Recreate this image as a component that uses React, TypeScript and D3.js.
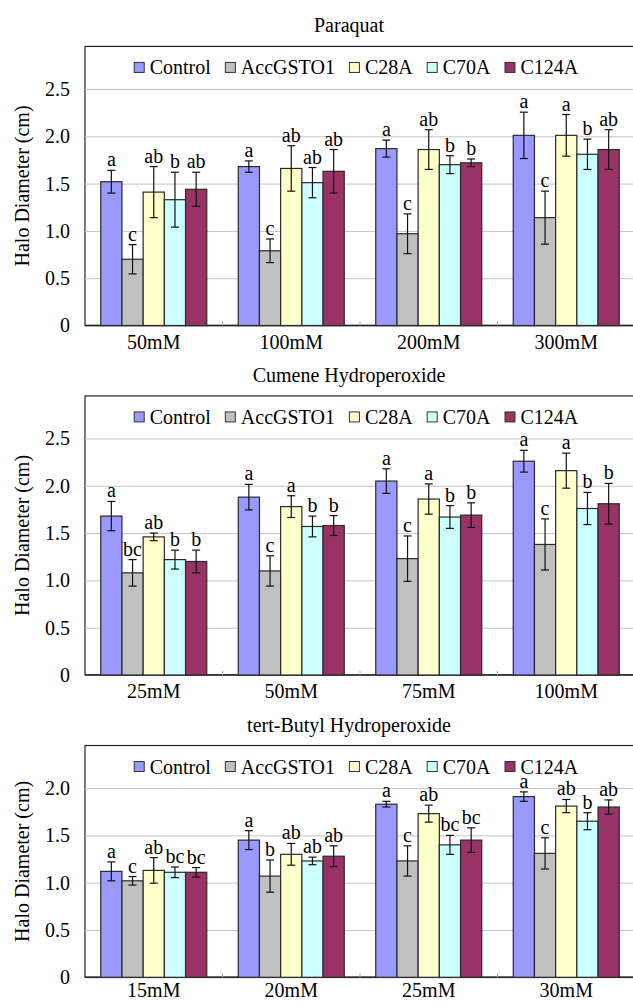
import React, { useEffect, useRef } from 'react'
import * as d3 from 'd3'

const seriesNames = ['Control', 'AccGSTO1', 'C28A', 'C70A', 'C124A']
const seriesColors = ['#9999ff', '#c0c0c0', '#ffffcc', '#ccffff', '#993366']

const tallTicks = [0, 0.5, 1, 1.5, 2, 2.5]
const shortTicks = [0, 0.5, 1, 1.5, 2]

// Paraquat: one row per dose, one value per strain
const paraquatDoses = ['50mM', '100mM', '200mM', '300mM']
const paraquatMean = [
  [1.52, 0.70, 1.41, 1.33, 1.44],
  [1.68, 0.79, 1.66, 1.51, 1.63],
  [1.87, 0.97, 1.86, 1.70, 1.72],
  [2.01, 1.14, 2.01, 1.81, 1.86],
]
const paraquatErr = [
  [0.12, 0.155, 0.27, 0.29, 0.18],
  [0.06, 0.125, 0.24, 0.16, 0.23],
  [0.09, 0.21, 0.21, 0.095, 0.04],
  [0.245, 0.28, 0.22, 0.16, 0.21],
]
const paraquatLetters = [
  ['a', 'c', 'ab', 'b', 'ab'],
  ['a', 'c', 'ab', 'ab', 'ab'],
  ['a', 'c', 'ab', 'b', 'b'],
  ['a', 'c', 'a', 'b', 'ab'],
]

// Cumene hydroperoxide
const cumeneDoses = ['25mM', '50mM', '75mM', '100mM']
const cumeneMean = [
  [1.68, 1.08, 1.46, 1.22, 1.20],
  [1.88, 1.10, 1.78, 1.57, 1.58],
  [2.05, 1.23, 1.86, 1.67, 1.69],
  [2.26, 1.38, 2.16, 1.76, 1.81],
]
const cumeneErr = [
  [0.155, 0.14, 0.04, 0.10, 0.12],
  [0.135, 0.16, 0.115, 0.11, 0.105],
  [0.13, 0.24, 0.16, 0.12, 0.13],
  [0.115, 0.27, 0.185, 0.17, 0.215],
]
const cumeneLetters = [
  ['a', 'bc', 'ab', 'b', 'b'],
  ['a', 'c', 'a', 'b', 'b'],
  ['a', 'c', 'a', 'b', 'b'],
  ['a', 'c', 'a', 'b', 'b'],
]

// tert-butyl hydroperoxide
const tbhDoses = ['15mM', '20mM', '25mM', '30mM']
const tbhMean = [
  [1.12, 1.02, 1.13, 1.11, 1.11],
  [1.45, 1.07, 1.30, 1.23, 1.28],
  [1.83, 1.23, 1.73, 1.40, 1.45],
  [1.91, 1.31, 1.81, 1.65, 1.80],
]
const tbhErr = [
  [0.10, 0.045, 0.135, 0.056, 0.05],
  [0.10, 0.17, 0.115, 0.04, 0.11],
  [0.03, 0.16, 0.09, 0.10, 0.13],
  [0.05, 0.165, 0.07, 0.09, 0.075],
]
const tbhLetters = [
  ['a', 'c', 'ab', 'bc', 'bc'],
  ['a', 'b', 'ab', 'ab', 'ab'],
  ['a', 'c', 'ab', 'bc', 'bc'],
  ['a', 'c', 'ab', 'b', 'ab'],
]

const panels = [
  { title: 'Paraquat', doses: paraquatDoses, means: paraquatMean, errs: paraquatErr, letters: paraquatLetters, ticks: tallTicks, yMax: 2.95, baseY: 325.5, catDy: 23 },
  { title: 'Cumene Hydroperoxide', doses: cumeneDoses, means: cumeneMean, errs: cumeneErr, letters: cumeneLetters, ticks: tallTicks, yMax: 2.95, baseY: 675, catDy: 23 },
  { title: 'tert-Butyl Hydroperoxide', doses: tbhDoses, means: tbhMean, errs: tbhErr, letters: tbhLetters, ticks: shortTicks, yMax: 2.45, baseY: 977.3, catDy: 20 },
]

const W = 633
const H = 1003
const PX_PER_UNIT = 94.6
const plotLeft = 85
const plotRight = 635
const FONT = '"Liberation Serif", "Times New Roman", serif'

export default function App() {
  const ref = useRef<SVGSVGElement>(null)

  useEffect(() => {
    const svg = d3.select(ref.current)
    svg.selectAll('*').remove()

    panels.forEach(p => {
      const y = d3.scaleLinear()
        .domain([0, p.yMax])
        .range([p.baseY, p.baseY - p.yMax * PX_PER_UNIT])
      const x0 = d3.scaleBand().domain(p.doses).range([plotLeft, plotRight])
      const groupW = x0.bandwidth() * 0.771
      const x1 = d3.scaleBand().domain(seriesNames).range([0, groupW])
      const offset = (x0.bandwidth() - groupW) / 2
      const frameTop = y(p.yMax)

      const g = svg.append('g')

      // frame
      g.append('rect')
        .attr('x', plotLeft).attr('y', frameTop)
        .attr('width', plotRight - plotLeft).attr('height', y(0) - frameTop)
        .attr('fill', '#fff').attr('stroke', '#222').attr('stroke-width', 1.2)

      // grid + tick labels
      const ax = g.append('g')
        .attr('transform', `translate(${plotLeft},0)`)
        .call(d3.axisLeft(y).tickValues(p.ticks).tickSize(-(plotRight - plotLeft)).tickPadding(15)
          .tickFormat(d => (+d === 0 ? '0' : d3.format('.1f')(+d))))
      ax.select('.domain').remove()
      ax.selectAll('line').attr('stroke', '#c4c4c4').attr('stroke-width', 1)
      ax.selectAll('text').attr('font-family', FONT).attr('font-size', 20).attr('fill', '#000')

      // x axis line and small inner ticks
      g.append('line')
        .attr('x1', plotLeft).attr('x2', plotRight)
        .attr('y1', y(0)).attr('y2', y(0))
        .attr('stroke', '#222').attr('stroke-width', 1.5)
      g.selectAll('line.xt')
        .data(p.doses.slice(1))
        .join('line')
        .attr('class', 'xt')
        .attr('x1', d => x0(d) as number).attr('x2', d => x0(d) as number)
        .attr('y1', y(0)).attr('y2', y(0) - 4)
        .attr('stroke', '#aaa')

      // bars
      const cells = p.doses.flatMap((dose, i) => seriesNames.map((s, j) => ({
        dose, s, j, v: p.means[i][j], e: p.errs[i][j], l: p.letters[i][j],
      })))
      const cx = (d: any) => (x0(d.dose) as number) + offset + (x1(d.s) as number)
      const bw = x1.bandwidth()

      g.selectAll('rect.bar')
        .data(cells)
        .join('rect')
        .attr('class', 'bar')
        .attr('x', cx)
        .attr('y', d => y(d.v))
        .attr('width', bw)
        .attr('height', d => y(0) - y(d.v))
        .attr('fill', d => seriesColors[d.j])
        .attr('stroke', '#2a2a2a')
        .attr('stroke-width', 1.2)

      // error bars
      const eb = g.selectAll('g.eb').data(cells).join('g').attr('class', 'eb')
      eb.append('line')
        .attr('x1', d => cx(d) + bw / 2).attr('x2', d => cx(d) + bw / 2)
        .attr('y1', d => y(d.v + d.e)).attr('y2', d => y(d.v - d.e))
        .attr('stroke', '#111').attr('stroke-width', 1.2)
      ;[1, -1].forEach(sign => {
        eb.append('line')
          .attr('x1', d => cx(d) + bw / 2 - 4).attr('x2', d => cx(d) + bw / 2 + 4)
          .attr('y1', d => y(d.v + sign * d.e)).attr('y2', d => y(d.v + sign * d.e))
          .attr('stroke', '#111').attr('stroke-width', 1.2)
      })

      // significance letters
      g.selectAll('text.lt')
        .data(cells)
        .join('text')
        .attr('class', 'lt')
        .attr('x', d => cx(d) + bw / 2)
        .attr('y', d => y(d.v + d.e) - 4)
        .attr('text-anchor', 'middle')
        .attr('font-family', FONT).attr('font-size', 20)
        .text(d => d.l)

      // category labels
      g.selectAll('text.cat')
        .data(p.doses)
        .join('text')
        .attr('class', 'cat')
        .attr('x', d => (x0(d) as number) + x0.bandwidth() / 2)
        .attr('y', y(0) + p.catDy)
        .attr('text-anchor', 'middle')
        .attr('font-family', FONT).attr('font-size', 20)
        .text(d => d)

      // legend
      const lg = g.append('g')
      let cursor = 0
      seriesNames.forEach((s, j) => {
        lg.append('rect')
          .attr('x', cursor + 0.5).attr('y', frameTop + 16)
          .attr('width', 10).attr('height', 10)
          .attr('fill', seriesColors[j]).attr('stroke', '#333').attr('stroke-width', 1)
        const t = lg.append('text')
          .attr('x', cursor + 16).attr('y', frameTop + 28)
          .attr('font-family', FONT).attr('font-size', 20)
          .text(s)
        const len = (t.node() as SVGTextElement).getComputedTextLength()
        cursor += 16 + len + 14
      })
      const totalW = cursor - 14
      lg.attr('transform', `translate(${356 - totalW / 2},0)`)

      // title
      g.append('text')
        .attr('x', 349).attr('y', frameTop - 14)
        .attr('text-anchor', 'middle')
        .attr('font-family', FONT).attr('font-size', 20)
        .text(p.title)

      // y axis title
      g.append('text')
        .attr('transform', `translate(29,${(frameTop + y(0)) / 2}) rotate(-90)`)
        .attr('text-anchor', 'middle')
        .attr('font-family', FONT).attr('font-size', 20)
        .text('Halo Diameter (cm)')
    })
  }, [])

  return (
    <svg
      ref={ref}
      width={W}
      height={H}
      style={{ position: 'absolute', left: 0, top: 0, background: '#fff' }}
    />
  )
}
